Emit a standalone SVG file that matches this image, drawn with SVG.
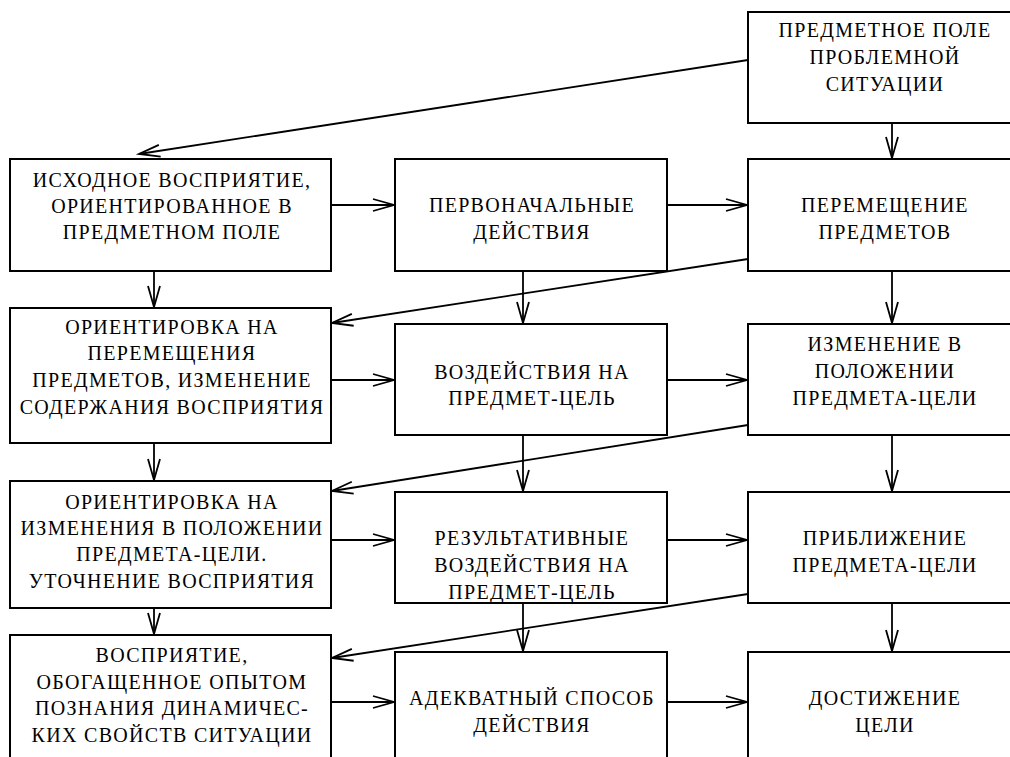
<svg xmlns="http://www.w3.org/2000/svg" width="1010" height="757" viewBox="0 0 1010 757">
<style>
.box{fill:#fff;stroke:#000;stroke-width:2}
.t{font-family:"Liberation Serif","Times New Roman","DejaVu Serif",serif;font-size:20px;letter-spacing:1.3px;text-anchor:middle;fill:#000}
.c{fill:none;stroke:#000;stroke-width:1.8}
</style>
<defs>
<marker id="ah" markerUnits="userSpaceOnUse" viewBox="-22 -8 24 16" refX="0" refY="0" markerWidth="24" markerHeight="16" orient="auto" overflow="visible">
<path d="M-21,-6 L0,0 L-21,6" fill="none" stroke="#000" stroke-width="1.8"/>
</marker>
</defs>
<rect width="1010" height="757" fill="#fff"/>
<g id="connectors">
<line class="c" x1="748" y1="60" x2="139" y2="154" marker-end="url(#ah)"/>
<line class="c" x1="892" y1="123" x2="892" y2="158" marker-end="url(#ah)"/>
<line class="c" x1="331" y1="205" x2="394" y2="205" marker-end="url(#ah)"/>
<line class="c" x1="667" y1="205" x2="747" y2="205" marker-end="url(#ah)"/>
<line class="c" x1="154" y1="271" x2="154" y2="307" marker-end="url(#ah)"/>
<line class="c" x1="523" y1="271" x2="523" y2="323" marker-end="url(#ah)"/>
<line class="c" x1="892" y1="271" x2="892" y2="323" marker-end="url(#ah)"/>
<line class="c" x1="748" y1="259" x2="332" y2="323" marker-end="url(#ah)"/>
<line class="c" x1="331" y1="380" x2="394" y2="380" marker-end="url(#ah)"/>
<line class="c" x1="667" y1="380" x2="747" y2="380" marker-end="url(#ah)"/>
<line class="c" x1="154" y1="443" x2="154" y2="480" marker-end="url(#ah)"/>
<line class="c" x1="523" y1="435" x2="523" y2="491" marker-end="url(#ah)"/>
<line class="c" x1="892" y1="435" x2="892" y2="491" marker-end="url(#ah)"/>
<line class="c" x1="748" y1="425" x2="332" y2="491" marker-end="url(#ah)"/>
<line class="c" x1="331" y1="540" x2="394" y2="540" marker-end="url(#ah)"/>
<line class="c" x1="667" y1="540" x2="747" y2="540" marker-end="url(#ah)"/>
<line class="c" x1="154" y1="608" x2="154" y2="634" marker-end="url(#ah)"/>
<line class="c" x1="523" y1="603" x2="523" y2="651" marker-end="url(#ah)"/>
<line class="c" x1="892" y1="603" x2="892" y2="651" marker-end="url(#ah)"/>
<line class="c" x1="748" y1="594" x2="332" y2="658" marker-end="url(#ah)"/>
<line class="c" x1="331" y1="702" x2="394" y2="702" marker-end="url(#ah)"/>
<line class="c" x1="667" y1="702" x2="747" y2="702" marker-end="url(#ah)"/>
</g>
<g id="nA"><rect class="box" x="748" y="12" width="272" height="111"/>
<text class="t" x="885" y="37">ПРЕДМЕТНОЕ ПОЛЕ</text><text class="t" x="885" y="64">ПРОБЛЕМНОЙ</text><text class="t" x="885" y="91">СИТУАЦИИ</text></g>
<g id="nL1"><rect class="box" x="10" y="159" width="321" height="112"/>
<text class="t" x="172" y="187">ИСХОДНОЕ ВОСПРИЯТИЕ,</text><text class="t" x="172" y="213">ОРИЕНТИРОВАННОЕ В</text><text class="t" x="172" y="239">ПРЕДМЕТНОМ ПОЛЕ</text></g>
<g id="nM1"><rect class="box" x="395" y="159" width="272" height="112"/>
<text class="t" x="532" y="212">ПЕРВОНАЧАЛЬНЫЕ</text><text class="t" x="532" y="239">ДЕЙСТВИЯ</text></g>
<g id="nR1"><rect class="box" x="748" y="159" width="272" height="112"/>
<text class="t" x="885" y="212">ПЕРЕМЕЩЕНИЕ</text><text class="t" x="885" y="239">ПРЕДМЕТОВ</text></g>
<g id="nL2"><rect class="box" x="10" y="308" width="321" height="135"/>
<text class="t" x="172" y="334">ОРИЕНТИРОВКА НА</text><text class="t" x="172" y="360">ПЕРЕМЕЩЕНИЯ</text><text class="t" x="172" y="387">ПРЕДМЕТОВ, ИЗМЕНЕНИЕ</text><text class="t" x="172" y="414">СОДЕРЖАНИЯ ВОСПРИЯТИЯ</text></g>
<g id="nM2"><rect class="box" x="395" y="324" width="272" height="111"/>
<text class="t" x="532" y="379">ВОЗДЕЙСТВИЯ НА</text><text class="t" x="532" y="405">ПРЕДМЕТ-ЦЕЛЬ</text></g>
<g id="nR2"><rect class="box" x="748" y="324" width="272" height="111"/>
<text class="t" x="885" y="351">ИЗМЕНЕНИЕ В</text><text class="t" x="885" y="378">ПОЛОЖЕНИИ</text><text class="t" x="885" y="405">ПРЕДМЕТА-ЦЕЛИ</text></g>
<g id="nL3"><rect class="box" x="10" y="481" width="321" height="127"/>
<text class="t" x="172" y="509">ОРИЕНТИРОВКА НА</text><text class="t" x="172" y="535">ИЗМЕНЕНИЯ В ПОЛОЖЕНИИ</text><text class="t" x="172" y="561">ПРЕДМЕТА-ЦЕЛИ.</text><text class="t" x="172" y="588">УТОЧНЕНИЕ ВОСПРИЯТИЯ</text></g>
<g id="nM3"><rect class="box" x="395" y="492" width="272" height="111"/>
<text class="t" x="532" y="545">РЕЗУЛЬТАТИВНЫЕ</text><text class="t" x="532" y="572">ВОЗДЕЙСТВИЯ НА</text><text class="t" x="532" y="599">ПРЕДМЕТ-ЦЕЛЬ</text></g>
<g id="nR3"><rect class="box" x="748" y="492" width="272" height="111"/>
<text class="t" x="885" y="545">ПРИБЛИЖЕНИЕ</text><text class="t" x="885" y="572">ПРЕДМЕТА-ЦЕЛИ</text></g>
<g id="nL4"><rect class="box" x="10" y="635" width="321" height="130"/>
<text class="t" x="172" y="662">ВОСПРИЯТИЕ,</text><text class="t" x="172" y="689">ОБОГАЩЕННОЕ ОПЫТОМ</text><text class="t" x="172" y="715">ПОЗНАНИЯ ДИНАМИЧЕС-</text><text class="t" x="172" y="742">КИХ СВОЙСТВ СИТУАЦИИ</text></g>
<g id="nM4"><rect class="box" x="395" y="652" width="272" height="115"/>
<text class="t" x="532" y="705">АДЕКВАТНЫЙ СПОСОБ</text><text class="t" x="532" y="732">ДЕЙСТВИЯ</text></g>
<g id="nR4"><rect class="box" x="748" y="652" width="272" height="115"/>
<text class="t" x="885" y="705">ДОСТИЖЕНИЕ</text><text class="t" x="885" y="732">ЦЕЛИ</text></g>
</svg>
